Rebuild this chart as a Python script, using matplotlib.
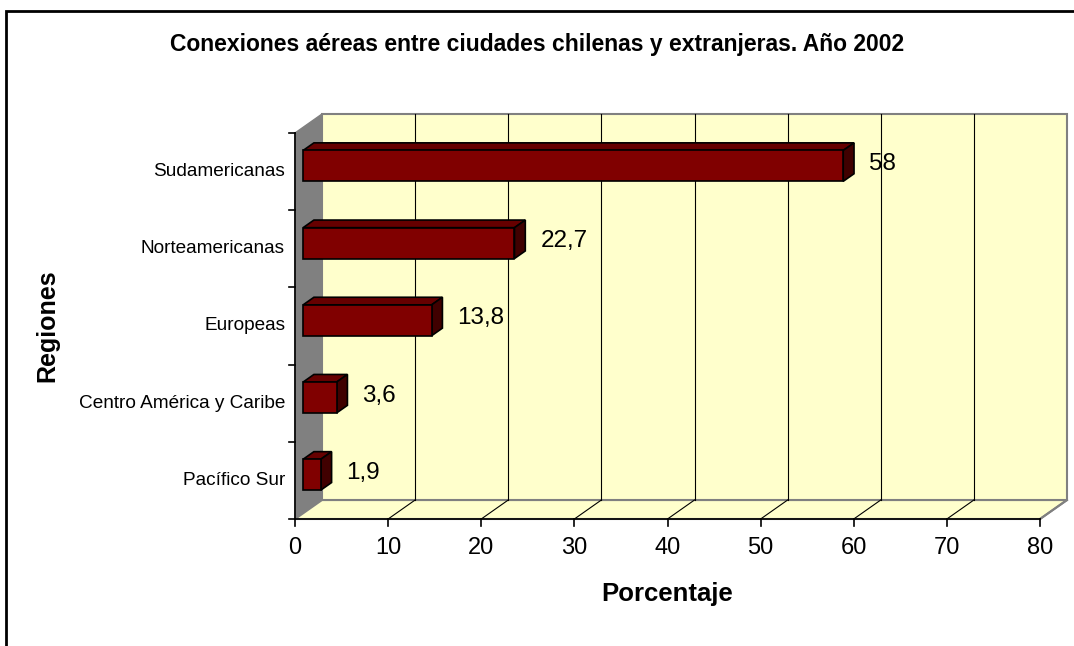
import matplotlib.pyplot as plt
from matplotlib.patches import Polygon, Rectangle

plt.rcParams["font.family"] = ["Liberation Sans", "DejaVu Sans"]

categories = ["Pacífico Sur", "Centro América y Caribe", "Europeas",
              "Norteamericanas", "Sudamericanas"]
values = [1.9, 3.6, 13.8, 22.7, 58]
value_labels = ["1,9", "3,6", "13,8", "22,7", "58"]
xticks = [0, 10, 20, 30, 40, 50, 60, 70, 80]

W, H = 1074, 646
fig = plt.figure(figsize=(W / 100, H / 100), dpi=100)
fig.patch.set_facecolor("white")

# front plane of the 3-d box in pixels
left, right, top, bottom = 295, 1040, 133, 519
ax = fig.add_axes([left / W, 1 - bottom / H, (right - left) / W, (bottom - top) / H])
ax.set_xlim(0, 80)
ax.set_ylim(0, 5)
ax.axis("off")

px_x = (right - left) / 80   # pixels per value unit
px_y = (bottom - top) / 5    # pixels per category

# depth offset in data units (27 px right, 19 px up)
DX = 27 / px_x
DY = 19 / px_y

wall = "#FFFFCC"
grey = "#808080"

# left wall
ax.add_patch(Polygon([(0, 0), (0, 5), (DX, 5 + DY), (DX, DY)], closed=True,
                     facecolor=grey, edgecolor=grey, lw=1, clip_on=False, zorder=1))
# floor
ax.add_patch(Polygon([(0, 0), (80, 0), (80 + DX, DY), (DX, DY)], closed=True,
                     facecolor=wall, edgecolor=grey, lw=1.5, clip_on=False, zorder=1))
# back wall
ax.add_patch(Rectangle((DX, DY), 80, 5, facecolor=wall, edgecolor=grey, lw=1.5,
                       clip_on=False, zorder=1))

# gridlines on back wall and floor
for v in xticks[1:-1]:
    ax.plot([v + DX, v + DX], [DY, 5 + DY], color="black", lw=0.8, zorder=2, clip_on=False)
    ax.plot([v, v + DX], [0, DY], color="black", lw=0.8, zorder=2, clip_on=False)
ax.plot([80, 80 + DX], [0, DY], color=grey, lw=1.5, zorder=2, clip_on=False)

# axes lines and ticks
ax.plot([0, 80], [0, 0], color="black", lw=1.2, zorder=3, clip_on=False)
ax.plot([0, 0], [0, 5], color="black", lw=1.2, zorder=3, clip_on=False)
for v in xticks:
    ax.plot([v, v], [0, -7 / px_y], color="black", lw=1.2, zorder=3, clip_on=False)
    ax.text(v, -29 / px_y, str(v), ha="center", va="center", fontsize=17, zorder=4)
for i in range(6):
    ax.plot([0, -6 / px_x], [i, i], color="black", lw=1.2, zorder=3, clip_on=False)

# bars
d0, d1 = 0.3, 0.7
bh = 0.4
for i, (cat, v, lab) in enumerate(zip(categories, values, value_labels)):
    x0 = d0 * DX
    y0 = i + 0.5 - bh / 2 + d0 * DY
    y1 = y0 + bh
    bx = (d1 - d0) * DX
    by = (d1 - d0) * DY
    ax.add_patch(Polygon([(x0, y1), (x0 + v, y1), (x0 + v + bx, y1 + by), (x0 + bx, y1 + by)],
                         closed=True, facecolor="#660000", edgecolor="black", lw=1.2,
                         zorder=5, clip_on=False))
    ax.add_patch(Polygon([(x0 + v, y0), (x0 + v + bx, y0 + by), (x0 + v + bx, y1 + by), (x0 + v, y1)],
                         closed=True, facecolor="#400000", edgecolor="black", lw=1.2,
                         zorder=5, clip_on=False))
    ax.add_patch(Rectangle((x0, y0), v, bh, facecolor="#800000", edgecolor="black", lw=1.2,
                           zorder=6, clip_on=False))
    ax.text(v + d1 * DX + 15 / px_x, i + 0.5 + 0.4 * DY, lab, ha="left", va="center",
            fontsize=17.5, zorder=7)
    ax.text(-10 / px_x, i + 0.5, cat, ha="right", va="center", fontsize=13.7, zorder=4)

fig.text(537 / W, 1 - 44 / H, "Conexiones aéreas entre ciudades chilenas y extranjeras. Año 2002",
         ha="center", va="center", fontsize=16.5, fontweight="bold")
fig.text((left + right) / 2 / W, 1 - 594 / H, "Porcentaje", ha="center", va="center",
         fontsize=18.5, fontweight="bold")
fig.text(47 / W, 1 - (top + bottom) / 2 / H, "Regiones", ha="center", va="center",
         rotation=90, fontsize=18, fontweight="bold")

# chart border, running off the right and bottom of the image
fig.add_artist(Rectangle((6 / W, -0.1), 1.2, 1.1 - 11 / H, transform=fig.transFigure,
                         facecolor="none", edgecolor="black", lw=2))

fig.savefig("out.png", dpi=100)
